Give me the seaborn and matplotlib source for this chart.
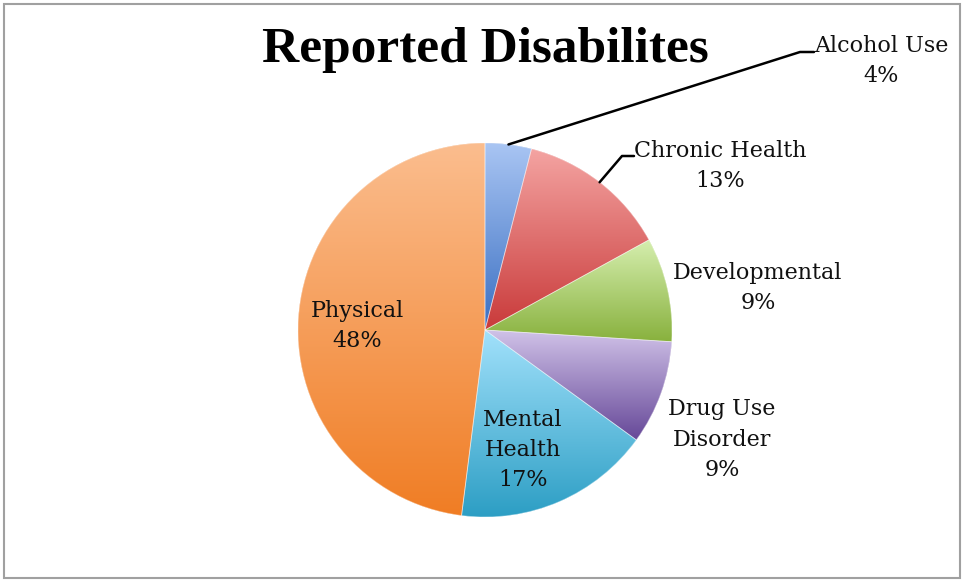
import numpy as np
import matplotlib
matplotlib.use("Agg")
import matplotlib.pyplot as plt
import matplotlib.colors as mcolors
from matplotlib.patches import Rectangle, Wedge
import seaborn as sns

# ---- data ----
categories = ["Alcohol Use", "Chronic Health", "Developmental",
              "Drug Use Disorder", "Mental Health", "Physical"]
values = [4, 13, 9, 9, 17, 48]
label_texts = ["Alcohol Use\n4%", "Chronic Health\n13%", "Developmental\n9%",
               "Drug Use\nDisorder\n9%", "Mental\nHealth\n17%", "Physical\n48%"]
title = "Reported Disabilites"

# gradient colours (top -> bottom of each wedge)
top_colors = ["#a9c5f3", "#f4a4a2", "#d5eeae", "#d0c2e8", "#a2e1fb", "#fbbd8e"]
bottom_colors = ["#3a6fc2", "#c93a3a", "#88b13d", "#664898", "#2c9ec4", "#f07d24"]

sns.set_theme(style="white")
plt.rcParams["font.family"] = ["DejaVu Serif", "DejaVu Sans"]

W, H = 963, 581
fig = plt.figure(figsize=(W / 100, H / 100), dpi=100)
fig.patch.set_facecolor("white")
ax = fig.add_axes([0, 0, 1, 1])

cx, cy, R = 485, H - 330, 187
wedges, _ = ax.pie(values, startangle=90, counterclock=False,
                   center=(cx, cy), radius=R,
                   colors=[mcolors.to_hex(np.mean([mcolors.to_rgb(a), mcolors.to_rgb(b)], axis=0))
                           for a, b in zip(top_colors, bottom_colors)],
                   wedgeprops=dict(linewidth=0))

for w, ct, cb in zip(wedges, top_colors, bottom_colors):
    ext = w.get_path().get_extents()
    t = np.linspace(0, 1, 256)[:, None, None]
    grad = (1 - t) * np.array(mcolors.to_rgb(ct))[None, None, :] + t * np.array(mcolors.to_rgb(cb))[None, None, :]
    im = ax.imshow(grad, extent=(ext.x0, ext.x1, ext.y0, ext.y1), origin="upper",
                   interpolation="bilinear", aspect="auto", zorder=2)
    im.set_clip_path(w)
    ax.add_patch(Wedge((cx, cy), R, w.theta1, w.theta2,
                       facecolor="none", edgecolor=(1, 1, 1, 0.45),
                       linewidth=0.6, zorder=3))

ax.set_xlim(0, W)
ax.set_ylim(0, H)
ax.set_aspect("equal")
ax.axis("off")

# labels (layout positions in pixel coords, top-origin)
label_pos = [(881, 61), (720, 166), (758, 288), (722, 440), (523, 450), (357, 326)]
for (lx, ly), txt in zip(label_pos, label_texts):
    ax.text(lx, H - ly, txt, ha="center", va="center", fontsize=16,
            color="#111111", linespacing=1.5, zorder=5)

# leader lines from wedge mid-angle
def edge_point(w):
    a = np.deg2rad((w.theta1 + w.theta2) / 2)
    return cx + R * np.cos(a), cy + R * np.sin(a)

x0, y0 = edge_point(wedges[0])
ax.plot([x0, 800, 814], [y0, H - 52, H - 52], color="black", lw=1.8, zorder=4)
x1, y1 = edge_point(wedges[1])
ax.plot([x1, 622, 634], [y1, H - 156, H - 156], color="black", lw=1.8, zorder=4)

ax.text(485, H - 50, title, ha="center", va="center", fontsize=37,
        fontweight="bold", family=["Liberation Serif", "DejaVu Serif"], color="black")

fig.patches.append(Rectangle((3.5 / W, 3.5 / H), (W - 7) / W, (H - 7) / H,
                             transform=fig.transFigure, fill=False,
                             edgecolor="#a0a0a0", linewidth=1.5))

fig.savefig("out.png", dpi=100)
